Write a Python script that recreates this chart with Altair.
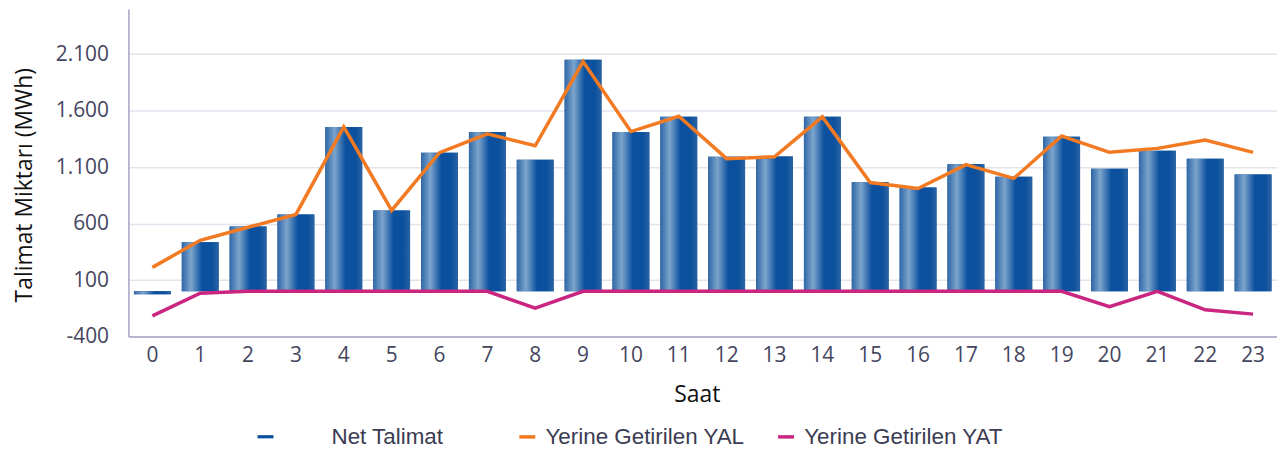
import altair as alt
import pandas as pd

hours = list(range(24))
net_talimat = [-25, 435, 575, 680, 1455, 715, 1228, 1410, 1165, 2050, 1410, 1545,
               1192, 1195, 1545, 965, 920, 1125, 1015, 1370, 1085, 1245, 1175, 1035]
yal = [212, 452, 567, 681, 1456, 717, 1228, 1395, 1289, 2035, 1415, 1550,
       1175, 1192, 1545, 963, 910, 1122, 1000, 1375, 1231, 1266, 1340, 1231]
yat = [-217, -17, 0, 0, 0, 0, 0, 0, -150, 0, 0, 0,
       0, 0, 0, 0, 0, 0, 0, 0, -135, 0, -164, -202]
series_names = ["Net Talimat", "Yerine Getirilen YAL", "Yerine Getirilen YAT"]
series_colors = ["#0b4f9c", "#f27a22", "#c92581"]
y_ticks = [-400, 100, 600, 1100, 1600, 2100]

bars_df = pd.DataFrame({"Saat": hours, "Deger": net_talimat, "Seri": [series_names[0]] * 24})
lines_df = pd.DataFrame({
    "Saat": hours * 2,
    "Deger": yal + yat,
    "Seri": [series_names[1]] * 24 + [series_names[2]] * 24,
})

gradient = alt.LinearGradient(
    gradient="linear",
    stops=[
        alt.GradientStop(offset=0.0, color="#2f67a7"),
        alt.GradientStop(offset=0.25, color="#7da4cc"),
        alt.GradientStop(offset=0.55, color="#0a509f"),
        alt.GradientStop(offset=0.82, color="#0b519e"),
        alt.GradientStop(offset=1.0, color="#2c63a3"),
    ],
    x1=0, x2=1, y1=0, y2=0,
)

x_enc = alt.X(
    "Saat:O",
    scale=alt.Scale(paddingInner=0.23, paddingOuter=0.115),
    axis=alt.Axis(
        labelAngle=0, ticks=False, tickSize=0, grid=False, domain=True,
        domainColor="#a3a3c6", domainWidth=1.5,
        labelFont="Open Sans", labelFontSize=21, labelColor="#45455e", labelPadding=8,
        title="Saat", titleFont="Open Sans", titleFontSize=23, titleFontWeight="normal",
        titleColor="#111111", titleX=571, titleY=58, titleBaseline="middle", titleAlign="center",
    ),
)

label_expr = ("datum.value < 0 ? '-' + replace(format(-datum.value, ','), ',', '.') "
              ": replace(format(datum.value, ','), ',', '.')")

y_enc = alt.Y(
    "Deger:Q",
    scale=alt.Scale(domain=[-400, 2500], nice=False, zero=False),
    axis=alt.Axis(
        values=y_ticks, ticks=False, tickSize=0, grid=True, gridColor="#e3e3ee", gridWidth=1.5,
        domain=True, domainColor="#a3a3c6", domainWidth=1.5,
        labelFont="Open Sans", labelFontSize=21, labelColor="#45455e", labelPadding=20,
        labelExpr=label_expr,
        title="Talimat Miktarı (MWh)", titleFont="Open Sans", titleFontSize=23,
        titleFontWeight="normal", titleColor="#111111", titleX=-104.5, titleY=176.5,
        titleAngle=270, titleAlign="center", titleBaseline="middle",
    ),
)

legend_common = dict(
    title=None, orient="none", direction="horizontal", padding=0,
    labelFont="Liberation Sans", labelFontSize=22.5, labelColor="#3b3b52", labelLimit=400,
    symbolSize=256,
)

# Solid bars underneath carry the legend entry for "Net Talimat"
bars_legend = alt.Chart(bars_df).mark_bar().encode(
    x=x_enc, y=y_enc,
    color=alt.Color(
        "Seri:N",
        scale=alt.Scale(domain=series_names[:1], range=series_colors[:1]),
        legend=alt.Legend(
            legendX=126.5, legendY=418.5,
            symbolType="M-1,-0.2H1V0.2H-1Z", symbolStrokeWidth=0,
            labelOffset=55, **legend_common,
        ),
    ),
)

bars = alt.Chart(bars_df).mark_bar(color=gradient).encode(x=x_enc, y=y_enc)

lines = alt.Chart(lines_df).mark_line(strokeWidth=3.5).encode(
    x=x_enc,
    y=y_enc,
    color=alt.Color(
        "Seri:N",
        scale=alt.Scale(domain=series_names[1:], range=series_colors[1:]),
        legend=alt.Legend(
            legendX=389.5, legendY=418.5,
            columnPadding=26, symbolType="stroke", symbolStrokeWidth=3.5,
            labelOffset=7, **legend_common,
        ),
    ),
)

chart = alt.layer(bars_legend, bars, lines).resolve_scale(color="independent").properties(
    width=1154, height=329,
    padding={"left": 5, "top": 0, "right": 0, "bottom": 0},
).configure_view(strokeWidth=0)

chart.save("out.html", embed_options={"renderer": "svg", "actions": False})
